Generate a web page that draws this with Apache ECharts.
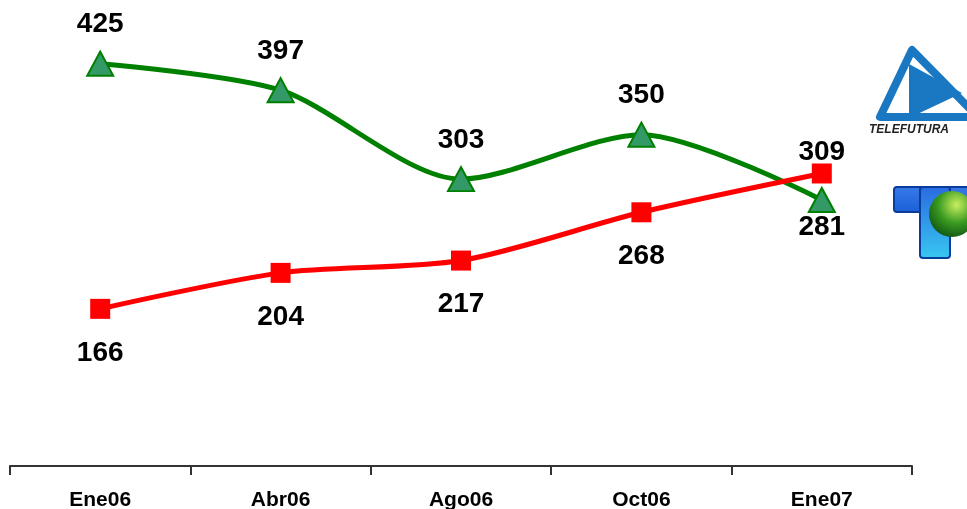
<!DOCTYPE html>
<html>
<head>
<meta charset="utf-8">
<script src="https://cdn.jsdelivr.net/npm/echarts@6/dist/echarts.min.js"></script>
<style>html,body{margin:0;padding:0;background:#fff}#c{width:967px;height:509px}</style>
</head>
<body>
<div id="c"></div>
<script>
const categories = ['Ene06', 'Abr06', 'Ago06', 'Oct06', 'Ene07'];
const telefutura = [425, 397, 303, 350, 281];
const televisa = [166, 204, 217, 268, 309];
const greenLabelPos = ['top', 'top', 'top', 'top', 'bottom'];
const redLabelPos = ['bottom', 'bottom', 'bottom', 'bottom', 'top'];

const chart = echarts.init(document.getElementById('c'));
const labelFont = {fontFamily: 'Liberation Sans, Arial, sans-serif', fontWeight: 'bold', fontSize: 28, color: '#000'};

function items(vals, pos, upDist, downDist) {
  return vals.map((v, i) => ({
    value: v,
    label: Object.assign({show: true, position: pos[i], distance: pos[i] === 'top' ? upDist : downDist}, labelFont)
  }));
}

chart.setOption({
  animation: false,
  grid: {left: 10, right: 55, top: 40, bottom: 43, outerBoundsMode: 'none', containLabel: false},
  xAxis: {
    type: 'category',
    data: categories,
    boundaryGap: true,
    axisLine: {lineStyle: {color: '#333', width: 2}},
    axisTick: {show: true, length: 9, lineStyle: {color: '#333', width: 2}},
    axisLabel: {margin: 24, fontFamily: 'Liberation Sans, Arial, sans-serif', fontWeight: 'bold', fontSize: 21, color: '#000'}
  },
  yAxis: {type: 'value', min: 0, max: 450, show: false, splitLine: {show: false}},
  series: [
    {
      type: 'line', name: 'Telefutura', smooth: 0.28,
      data: items(telefutura, greenLabelPos, 12, 0),
      symbol: 'triangle', symbolSize: [26, 24],
      lineStyle: {color: '#008000', width: 5},
      itemStyle: {color: '#339966', borderColor: '#008000', borderWidth: 2},
      z: 2
    },
    {
      type: 'line', name: 'Televisa', smooth: 0.28,
      data: items(televisa, redLabelPos, -3, 20),
      symbol: 'rect', symbolSize: 20,
      lineStyle: {color: '#ff0000', width: 5},
      itemStyle: {color: '#ff0000', borderColor: '#ff0000', borderWidth: 0},
      z: 3
    }
  ],
  graphic: [
    {type: 'polygon', shape: {points: [[912, 50], [880, 117], [978, 117]]}, style: {fill: 'none', stroke: '#1a78c2', lineWidth: 8, lineJoin: 'round'}},
    {type: 'polygon', shape: {points: [[909, 64], [962, 93], [909, 118]]}, style: {fill: '#1a78c2'}},
    {type: 'text', left: 869, top: 124, style: {text: 'TELEFUTURA', fontSize: 12, fontWeight: 'bold', fontStyle: 'italic', fill: '#222', fontFamily: 'Liberation Sans'}},
    {type: 'rect', shape: {x: 894, y: 187, width: 80, height: 25, r: 3}, style: {fill: new echarts.graphic.LinearGradient(0, 0, 0, 1, [{offset: 0, color: '#3a7ae8'}, {offset: 1, color: '#1a5fd8'}]), stroke: '#0a3c9c', lineWidth: 2}},
    {type: 'rect', shape: {x: 920, y: 187, width: 30, height: 71, r: 3}, style: {fill: new echarts.graphic.LinearGradient(0, 0, 0, 1, [{offset: 0, color: '#2a6ae0'}, {offset: 1, color: '#38c8f0'}]), stroke: '#0a3c9c', lineWidth: 2}},
    {type: 'circle', shape: {cx: 952, cy: 214, r: 23}, style: {fill: new echarts.graphic.RadialGradient(0.6, 0.3, 0.8, [{offset: 0, color: '#c8f060'}, {offset: 0.5, color: '#3a9a20'}, {offset: 1, color: '#0a4a10'}])}}
  ]
});
</script>
</body>
</html>
